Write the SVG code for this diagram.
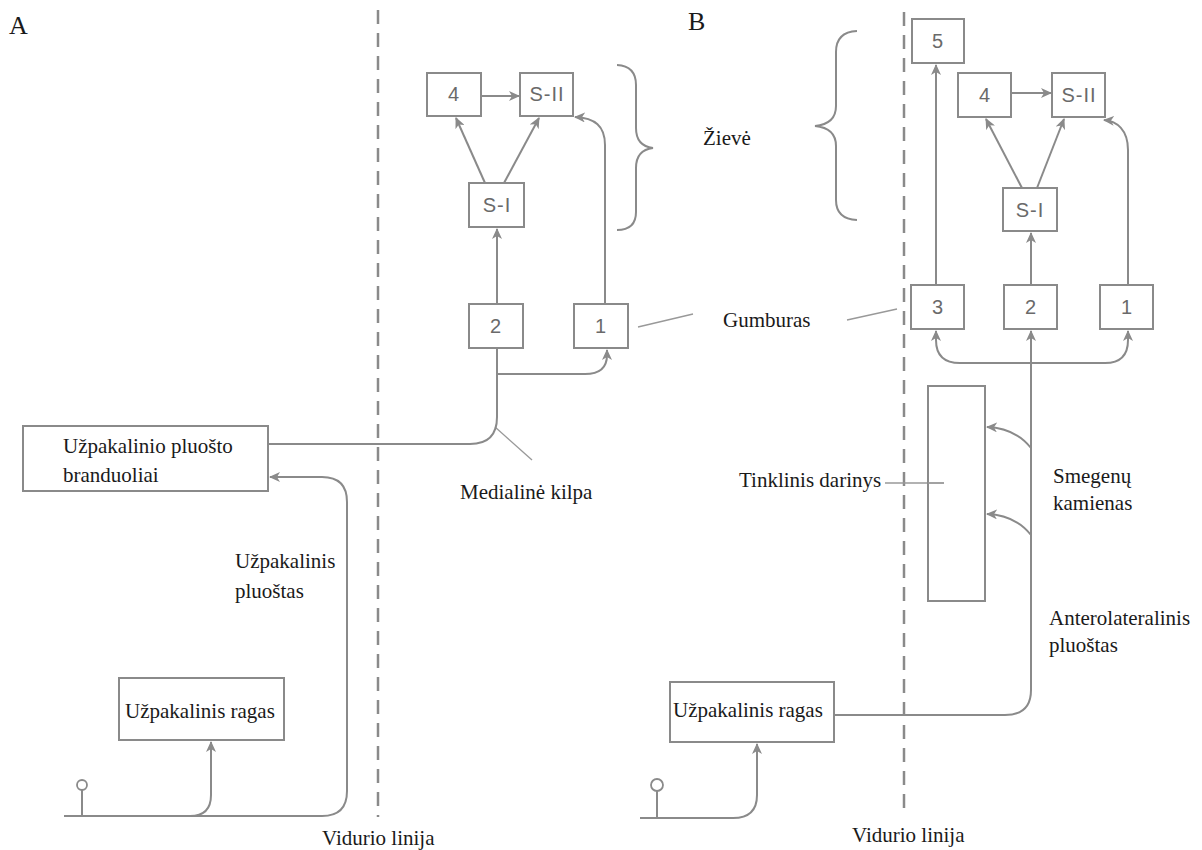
<svg xmlns="http://www.w3.org/2000/svg" width="1202" height="850" viewBox="0 0 1202 850">
<style>
.box{fill:#fff;stroke:#8a8a8a;stroke-width:2}
.num{font-family:"Liberation Sans",Arial,sans-serif;font-size:20px;fill:#6a6a6a;text-anchor:middle;letter-spacing:1px}
.lbl{font-family:"Liberation Serif","Times New Roman",serif;font-size:21px;fill:#1a1a1a}
.big{font-family:"Liberation Serif","Times New Roman",serif;font-size:26px;fill:#1a1a1a}
.conn{fill:none;stroke:#8a8a8a;stroke-width:2}
.arr{marker-end:url(#ah)}
.mid{fill:none;stroke:#8a8a8a;stroke-width:2.5;stroke-dasharray:14 9}
.leader{fill:none;stroke:#999;stroke-width:1.3}
.brace{fill:none;stroke:#8a8a8a;stroke-width:2}
</style>
<defs>
<marker id="ah" markerUnits="userSpaceOnUse" markerWidth="12" markerHeight="10" refX="10" refY="5" orient="auto">
<path d="M0,0 L11,5 L0,10 L3,5 z" fill="#8a8a8a"/>
</marker>
</defs>
<rect width="1202" height="850" fill="#fff"/>

<!-- midlines -->
<line class="mid" x1="378" y1="10" x2="378" y2="817"/>
<line class="mid" x1="904" y1="12" x2="904" y2="813"/>

<!-- braces -->
<path class="brace" d="M617,65 Q636,66 636,85 L636,128 Q636,146 653,148 Q636,150 636,168 L636,212 Q636,230 617,230"/>
<path class="brace" d="M857,31 Q836,32 836,52 L836,106 Q836,124 815,126 Q836,128 836,146 L836,200 Q836,219 857,220"/>

<!-- labels -->
<text class="big" x="9" y="34">A</text>
<text class="big" x="688" y="30">B</text>
<text class="lbl" x="703" y="145">Žievė</text>
<text class="lbl" x="723" y="327">Gumburas</text>
<text class="lbl" x="460" y="499">Medialinė kilpa</text>
<text class="lbl" x="235" y="568">Užpakalinis</text>
<text class="lbl" x="235" y="598">pluoštas</text>
<text class="lbl" x="322" y="845">Vidurio linija</text>
<text class="lbl" x="739" y="487">Tinklinis darinys</text>
<text class="lbl" x="1053" y="483">Smegenų</text>
<text class="lbl" x="1053" y="510">kamienas</text>
<text class="lbl" x="1049" y="625">Anterolateralinis</text>
<text class="lbl" x="1049" y="652">pluoštas</text>
<text class="lbl" x="852" y="842">Vidurio linija</text>

<!-- leaders -->
<g id="leaders">
<line class="leader" x1="638" y1="327" x2="693" y2="314"/>
<line class="leader" x1="847" y1="320" x2="897" y2="309"/>
<line class="leader" x1="495" y1="427" x2="532" y2="460"/>
<line class="leader" x1="885" y1="483" x2="944" y2="483" stroke="#555"/>
</g>

<!-- connectors -->
<g id="connectors">
<!-- A -->
<line class="conn arr" x1="481" y1="96" x2="519" y2="96"/>
<line class="conn arr" x1="485" y1="183" x2="456" y2="118"/>
<line class="conn arr" x1="504" y1="183" x2="539" y2="118"/>
<line class="conn arr" x1="497" y1="304" x2="497" y2="229"/>
<path class="conn arr" d="M605,304 L605,145 C605,126 595,118 575,117"/>
<path class="conn" d="M269,444 L470,444 Q497,444 497,417 L497,348"/>
<path class="conn arr" d="M497,374 L585,374 Q607,374 607,355 L607,350"/>
<path class="conn arr" d="M64,816 L322,816 Q347,816 347,791 L347,502 Q347,477 322,477 L270,477"/>
<path class="conn arr" d="M190,816 Q211,816 211,795 L211,742"/>
<circle cx="82" cy="785" r="5" fill="#fff" stroke="#8a8a8a" stroke-width="1.8"/>
<line class="conn" x1="82" y1="790" x2="82" y2="816"/>
<!-- B -->
<line class="conn arr" x1="936" y1="285" x2="936" y2="65"/>
<line class="conn arr" x1="1011" y1="93" x2="1051" y2="93"/>
<line class="conn arr" x1="1022" y1="188" x2="986" y2="119"/>
<line class="conn arr" x1="1037" y1="188" x2="1064" y2="119"/>
<line class="conn arr" x1="1031" y1="285" x2="1031" y2="233"/>
<path class="conn arr" d="M1128,285 L1128,150 C1128,130 1117,121 1104,120"/>
<path class="conn arr" d="M1031,363 L960,363 Q936,363 936,340 L936,331"/>
<path class="conn arr" d="M1031,363 L1105,363 Q1128,363 1128,340 L1128,331"/>
<path class="conn arr" d="M834,715 L1005,715 Q1031,715 1031,690 L1031,331"/>
<path class="conn arr" d="M1031,448 Q1015,428 987,427"/>
<path class="conn arr" d="M1031,535 Q1015,515 987,514"/>
<path class="conn arr" d="M640,818 L733,818 Q757,818 757,795 L757,744"/>
<circle cx="657" cy="785" r="6" fill="#fff" stroke="#8a8a8a" stroke-width="1.8"/>
<line class="conn" x1="657" y1="791" x2="657" y2="818"/>
</g>

<!-- nodes A -->
<g id="a-nuclei"><rect class="box" x="23" y="426" width="245" height="65"/>
<text class="lbl" x="63" y="453">Užpakalinio pluošto</text><text class="lbl" x="63" y="482">branduoliai</text></g>
<g id="a-horn"><rect class="box" x="119" y="678" width="165" height="62"/>
<text class="lbl" x="125" y="718">Užpakalinis ragas</text></g>
<g id="a-4"><rect class="box" x="427" y="73" width="54" height="43"/><text class="num" x="454" y="101">4</text></g>
<g id="a-s2"><rect class="box" x="520" y="73" width="53" height="43"/><text class="num" x="547" y="101">S-II</text></g>
<g id="a-s1"><rect class="box" x="469" y="183" width="55" height="44"/><text class="num" x="497" y="212">S-I</text></g>
<g id="a-2"><rect class="box" x="469" y="304" width="54" height="44"/><text class="num" x="496" y="333">2</text></g>
<g id="a-1"><rect class="box" x="574" y="304" width="54" height="44"/><text class="num" x="601" y="333">1</text></g>

<!-- nodes B -->
<g id="b-5"><rect class="box" x="912" y="19" width="52" height="44"/><text class="num" x="938" y="48">5</text></g>
<g id="b-4"><rect class="box" x="958" y="73" width="53" height="44"/><text class="num" x="985" y="102">4</text></g>
<g id="b-s2"><rect class="box" x="1052" y="73" width="53" height="44"/><text class="num" x="1079" y="102">S-II</text></g>
<g id="b-s1"><rect class="box" x="1003" y="188" width="54" height="43"/><text class="num" x="1030" y="217">S-I</text></g>
<g id="b-3"><rect class="box" x="911" y="285" width="53" height="44"/><text class="num" x="938" y="314">3</text></g>
<g id="b-2"><rect class="box" x="1004" y="285" width="53" height="44"/><text class="num" x="1031" y="314">2</text></g>
<g id="b-1"><rect class="box" x="1100" y="285" width="53" height="44"/><text class="num" x="1127" y="314">1</text></g>
<g id="b-reticular"><rect class="box" x="928" y="386" width="57" height="215" fill="none" style="fill:none"/></g>
<g id="b-horn"><rect class="box" x="670" y="682" width="164" height="60"/>
<text class="lbl" x="673" y="717">Užpakalinis ragas</text></g>
<line class="leader" x1="928" y1="483" x2="944" y2="483" stroke="#555"/>
</svg>
